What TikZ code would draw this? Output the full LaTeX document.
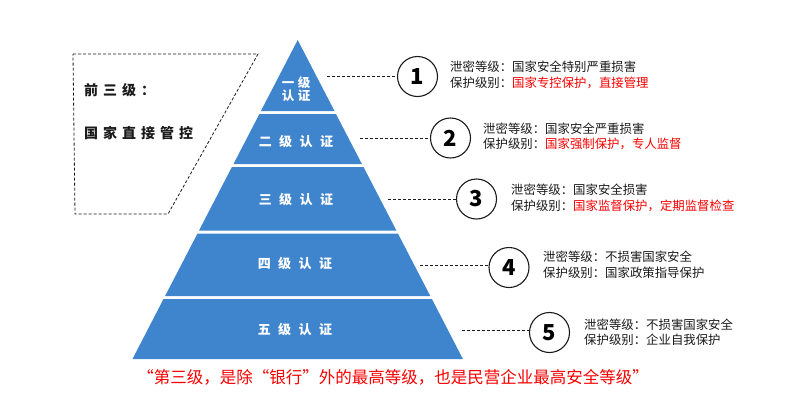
\documentclass[tikz,border=0pt]{standalone}
\usepackage{fontspec}
\setmainfont{Noto Sans CJK SC}
\definecolor{pyblue}{HTML}{3F85CD}
\definecolor{hired}{HTML}{F80000}
\definecolor{ink}{HTML}{1A1A1A}
\newcommand\bgap{\hspace{7.5pt}}
\newcommand\lgap{\hspace{5pt}}
\tikzset{
  band/.style={fill=pyblue, draw=none},
  bandtext/.style={text=white, inner sep=0pt, font=\bfseries\fontsize{13}{14}\selectfont},
  numc/.style={circle, draw=ink, line width=1.1pt, minimum size=40pt, inner sep=0pt, font=\bfseries\fontsize{22}{24}\selectfont},
  dashline/.style={draw=ink, dash pattern=on 3pt off 2pt, line width=0.8pt},
  info/.style={anchor=west, inner sep=0pt, text=ink, font=\fontsize{12.4}{14}\selectfont},
  lefttext/.style={anchor=west, inner sep=0pt, text=ink, font=\bfseries\fontsize{14}{16}\selectfont},
  bottomtext/.style={inner sep=0pt, text=hired, font=\fontsize{16.5}{18}\selectfont},
}
\begin{document}
\begin{tikzpicture}[x=1pt,y=-1pt]
\useasboundingbox (0,0) rectangle (800,400);
% pyramid bands
\fill[band] (297.7,40) -- (334.5,111) -- (260.9,111) -- cycle;
\fill[band] (259.4,114) -- (336.0,114) -- (361.9,164) -- (233.5,164) -- cycle;
\fill[band] (231.9,167) -- (363.5,167) -- (396.4,230.5) -- (199.0,230.5) -- cycle;
\fill[band] (197.5,233.5) -- (397.9,233.5) -- (430.3,296) -- (165.1,296) -- cycle;
\fill[band] (163.5,299) -- (431.9,299) -- (462.9,359) -- (132.5,359) -- cycle;
% band labels
\node[bandtext, align=center, font=\bfseries\fontsize{12.5}{13}\selectfont] (b1) at (296,89) {一\hspace{3.5pt}级\\[-0.5pt]认\hspace{3.5pt}证};
\node[bandtext] (b2) at (296,142) {二\bgap 级\bgap 认\bgap 证};
\node[bandtext] (b3) at (296,200) {三\bgap 级\bgap 认\bgap 证};
\node[bandtext] (b4) at (295,264) {四\bgap 级\bgap 认\bgap 证};
\node[bandtext] (b5) at (295,330) {五\bgap 级\bgap 认\bgap 证};
% left dashed box
\draw[dashline] (73,54) -- (258,54) -- (168,214) -- (75,214) -- cycle;
\node[lefttext] (l1) at (84,90) {前\lgap 三\lgap 级\lgap ：};
\node[lefttext] (l2) at (84,133) {国\lgap 家\lgap 直\lgap 接\lgap 管\lgap 控};
% circles
\node[numc] (c1) at (417.5,76.5) {1};
\node[numc] (c2) at (450.5,138) {2};
\node[numc] (c3) at (476.5,199) {3};
\node[numc] (c4) at (509,267.5) {4};
\node[numc] (c5) at (549.5,332.5) {5};
% connectors
\coordinate (e1) at (327,76);
\coordinate (e2) at (360,138);
\coordinate (e3) at (388,199);
\coordinate (e4) at (420,265);
\coordinate (e5) at (461.7,330);
\draw[dashline] (e1) -- (e1 -| c1.west);
\draw[dashline] (e2) -- (e2 -| c2.west);
\draw[dashline] (e3) -- (e3 -| c3.west);
\draw[dashline] (e4) -- (e4 -| c4.west);
\draw[dashline] (e5) -- (e5 -| c5.west);
% info texts
\node[info] (t1a) at (450,67) {泄密等级：国家安全特别严重损害};
\node[info] (t1b) at (450,82.5) {保护级别：\textcolor{hired}{国家专控保护，直接管理}};
\node[info] (t2a) at (483,128.3) {泄密等级：国家安全严重损害};
\node[info] (t2b) at (483,144) {保护级别：\textcolor{hired}{国家强制保护，专人监督}};
\node[info] (t3a) at (511,190) {泄密等级：国家安全损害};
\node[info] (t3b) at (511,205.5) {保护级别：\textcolor{hired}{国家监督保护，定期监督检查}};
\node[info] (t4a) at (543,257) {泄密等级：不损害国家安全};
\node[info] (t4b) at (543,272.5) {保护级别：国家政策指导保护};
\node[info] (t5a) at (584,324.5) {泄密等级：不损害国家安全};
\node[info] (t5b) at (584,340) {保护级别：企业自我保护};
% bottom note
\node[bottomtext] (note) at (393,377) {“第三级，是除“银行”外的最高等级，也是民营企业最高安全等级”};
\end{tikzpicture}
\end{document}
